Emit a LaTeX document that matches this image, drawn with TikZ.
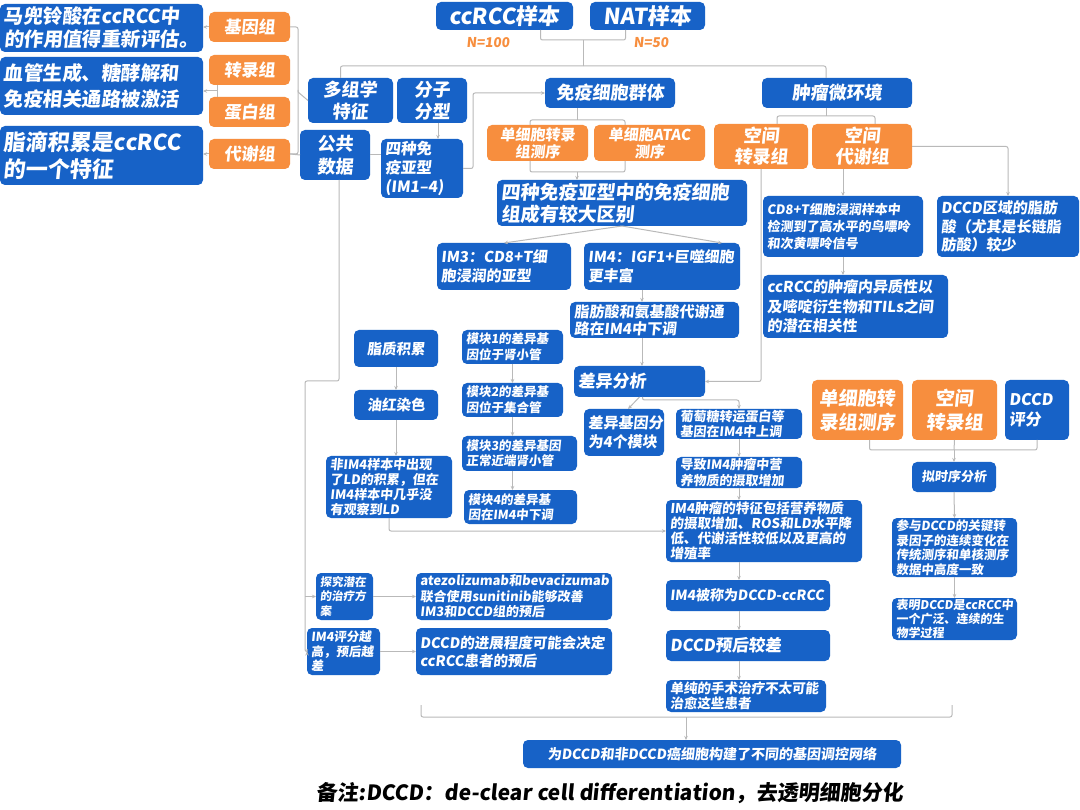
\documentclass[tikz,border=0pt]{standalone}
\usepackage{fontspec}
\setmainfont{Noto Sans CJK SC}[FakeSlant=0.1]
\usetikzlibrary{arrows.meta,calc}
\definecolor{cblue}{RGB}{23,98,199}
\definecolor{corange}{RGB}{247,142,62}
\definecolor{cline}{RGB}{185,185,185}
\hyphenpenalty=10000
\exhyphenpenalty=10000
\newcommand\fsz[2]{\fontsize{#1}{#2}\selectfont\bfseries}
\newcommand\fszr[2]{\fontsize{#1}{#2}\selectfont}
\newcommand\bx[7]{%
  \pgfmathsetmacro\bxw{#4-#2}%
  \pgfmathsetmacro\bxh{#5-#3}%
  \pgfmathsetmacro\bxt{#4-#2-8}%
  \pgfmathsetmacro\bxcx{(#2+#4)/2}%
  \pgfmathsetmacro\bxcy{(#3+#5)/2}%
  \node[#6, minimum width=\bxw pt, minimum height=\bxh pt, text width=\bxt pt] (#1) at (\bxcx,\bxcy) {#7};}
\tikzset{
  boxbase/.style={draw=none, text=white, rounded corners=5pt, inner xsep=4pt, inner ysep=0pt, outer sep=0pt},
  bl/.style={boxbase, fill=cblue, align=left},
  bc/.style={boxbase, fill=cblue, align=center},
  oc/.style={boxbase, fill=corange, align=center},
  ln/.style={draw=cline, line width=1pt, rounded corners=2pt},
  arr/.style={ln, -{Stealth[length=4pt,width=3.5pt]}}
}
\begin{document}
\begin{tikzpicture}[x=1pt,y=-1pt]
\fill[white] (0,0) rectangle (1080,810);
\useasboundingbox (0,0) rectangle (1080,810);

% left column
\bx{b1}{0}{4}{203}{52}{bl,font=\fsz{19.5}{23}}{马兜铃酸在ccRCC中\\的作用值得重新评估。}
\bx{b2}{0}{57}{203}{115}{bl,font=\fsz{19.5}{26}}{血管生成、糖酵解和\\免疫相关通路被激活}
\bx{b3}{0}{126}{203}{185}{bl,font=\fsz{22}{27}}{脂滴积累是ccRCC\\的一个特征}
\bx{gen}{209}{12}{290}{42}{oc,font=\fsz{17}{20}}{基因组}
\bx{tra}{209}{55}{290}{85}{oc,font=\fsz{17}{20}}{转录组}
\bx{pro}{209}{97}{290}{127}{oc,font=\fsz{17}{20}}{蛋白组}
\bx{met}{209}{139}{290}{169}{oc,font=\fsz{17}{20}}{代谢组}

% top
\bx{ccrcc}{436}{2}{573}{30}{bc,font=\fsz{22}{26}}{ccRCC样本}
\bx{nat}{590}{2}{705}{30}{bc,font=\fsz{22}{26}}{NAT样本}
\node[font=\fsz{13.5}{16}, text=corange] (n1) at (488,43) {N=100};
\node[font=\fsz{13.5}{16}, text=corange] (n2) at (651,43) {N=50};

\bx{multi}{308}{78}{393}{123}{bc,font=\fsz{18}{22}}{多组学\\特征}
\bx{mol}{397}{78}{467}{123}{bc,font=\fsz{18}{22}}{分子\\分型}
\bx{pub}{300}{130}{370}{180}{bc,font=\fsz{18}{23}}{公共\\数据}
\bx{im14}{381}{139}{463}{198}{bl,font=\fsz{15.5}{19}}{四种免\\疫亚型\\(IM1–4)}
\bx{imm}{545}{78}{675}{108}{bc,font=\fsz{18}{22}}{免疫细胞群体}
\bx{sc1}{487}{125}{588}{161}{oc,font=\fsz{15}{17}}{单细胞转录\\组测序}
\bx{sc2}{594}{125}{705}{161}{oc,font=\fsz{15}{17}}{单细胞ATAC\\测序}
\bx{diff4}{497}{180}{747}{226}{bl,font=\fsz{19}{22}}{四种免疫亚型中的免疫细胞\\组成有较大区别}
\bx{im3}{437}{243}{571}{290}{bl,font=\fsz{15}{19}}{IM3：CD8+T细\\胞浸润的亚型}
\bx{im4}{584}{243}{740}{290}{bl,font=\fsz{15}{19}}{IM4：IGF1+巨噬细胞\\更丰富}
\bx{fa}{570}{302}{739}{338}{bl,font=\fsz{15}{17}}{脂肪酸和氨基酸代谢通\\路在IM4中下调}
\bx{da}{574}{366}{705}{397}{bl,font=\fsz{17}{20}}{差异分析}

\bx{tme}{762}{78}{912}{108}{bc,font=\fsz{18}{22}}{肿瘤微环境}
\bx{st}{714}{124}{808}{169}{oc,font=\fsz{18}{21}}{空间\\转录组}
\bx{sm}{812}{124}{912}{169}{oc,font=\fsz{18}{21}}{空间\\代谢组}
\bx{cd8}{763}{196}{923}{257}{bl,font=\fsz{13}{17}}{CD8+T细胞浸润样本中\\检测到了高水平的鸟嘌呤\\和次黄嘌呤信号}
\bx{dccdfa}{937}{196}{1079}{257}{bl,font=\fsz{15}{18.5}}{DCCD区域的脂肪\\酸（尤其是长链脂\\肪酸）较少}
\bx{het}{763}{275}{948}{338}{bl,font=\fsz{15}{19.5}}{ccRCC的肿瘤内异质性以\\及嘧啶衍生物和TILs之间\\的潜在相关性}

\bx{mod4}{584}{409}{664}{456}{bl,font=\fsz{15}{19}}{差异基因分\\为4个模块}
\bx{glu}{676}{409}{802}{439}{bl,font=\fsz{13}{15.5}}{葡萄糖转运蛋白等\\基因在IM4中上调}
\bx{nut}{676}{457}{802}{488}{bl,font=\fsz{13}{15.5}}{导致IM4肿瘤中营\\养物质的摄取增加}
\bx{feat}{666}{500}{862}{562}{bl,font=\fsz{13.5}{15}}{IM4肿瘤的特征包括营养物质\\的摄取增加、ROS和LD水平降\\低、代谢活性较低以及更高的\\增殖率}
\bx{dcc}{666}{580}{830}{611}{bl,font=\fsz{14}{17}}{IM4被称为DCCD-ccRCC}
\bx{prog}{666}{630}{830}{661}{bl,font=\fsz{16.5}{19}}{DCCD预后较差}
\bx{surg}{666}{680}{826}{712}{bl,font=\fsz{13.5}{15.5}}{单纯的手术治疗不太可能\\治愈这些患者}

\bx{lip}{354}{330}{438}{367}{bc,font=\fsz{14.5}{17}}{脂质积累}
\bx{oil}{354}{390}{438}{420}{bc,font=\fsz{14.5}{17}}{油红染色}
\bx{ld}{326}{456}{452}{518}{bl,font=\fsz{13}{15}}{非IM4样本中出现\\了LD的积累，但在\\IM4样本中几乎没\\有观察到LD}
\bx{m1}{462}{330}{563}{364}{bl,font=\fsz{12.5}{15.5}}{模块1的差异基\\因位于肾小管}
\bx{m2}{462}{383}{563}{417}{bl,font=\fsz{12.5}{15.5}}{模块2的差异基\\因位于集合管}
\bx{m3}{462}{436}{577}{471}{bl,font=\fsz{12.5}{15.5}}{模块3的差异基因\\正常近端肾小管}
\bx{m4}{464}{490}{577}{524}{bl,font=\fsz{12.5}{15.5}}{模块4的差异基\\因在IM4中下调}

\bx{explore}{316}{573}{373}{620}{bl,font=\fsz{11.5}{14.5}}{探究潜在\\的治疗方\\案}
\bx{score}{307}{628}{380}{675}{bl,font=\fsz{12.5}{14.5}}{IM4评分越\\高，预后越\\差}
\bx{atezo}{416}{573}{612}{620}{bl,font=\fsz{13}{15.5}}{atezolizumab和bevacizumab\\联合使用sunitinib能够改善\\IM3和DCCD组的预后}
\bx{dprog}{416}{628}{612}{675}{bl,font=\fsz{14.5}{18}}{DCCD的进展程度可能会决定\\ccRCC患者的预后}

\bx{sc3}{812}{380}{903}{440}{oc,font=\fsz{19}{24}}{单细胞转\\录组测序}
\bx{st2}{912}{380}{997}{440}{oc,font=\fsz{19}{24}}{空间\\转录组}
\bx{dscore}{1005}{380}{1069}{440}{bl,font=\fsz{16}{20}}{DCCD\\评分}
\bx{pseudo}{912}{462}{996}{492}{bc,font=\fsz{13}{16}}{拟时序分析}
\bx{tf}{892}{518}{1017}{577}{bl,font=\fsz{12.5}{14.5}}{参与DCCD的关键转\\录因子的连续变化在\\传统测序和单核测序\\数据中高度一致}
\bx{bio}{892}{598}{1017}{640}{bl,font=\fsz{12}{14}}{表明DCCD是ccRCC中\\一个广泛、连续的生\\物学过程}

\bx{final}{523}{740}{901}{768}{bc,font=\fsz{14}{17}}{为DCCD和非DCCD癌细胞构建了不同的基因调控网络}
\node[font=\fsz{21}{25}, text=black] (note) at (610,793) {备注:DCCD：de-clear cell differentiation，去透明细胞分化};

% ---------- connectors ----------
% left omics
\draw[arr] (gen.west) -- (gen.west -| b1.east);
\coordinate (tp) at (217,91);
\draw[ln] ([xshift=8]tra.south west) -- ([xshift=8]pro.north west);
\draw[arr] (tp) -- (tp -| b2.east);
\draw[arr] (met.west) -- (met.west -| b3.east);
\coordinate (rv) at (298,92);
\draw[ln] (gen.east) -| (rv);
\draw[ln] (met.east) -- ++(8,0) |- (rv);
\draw[ln] (met.east) -- (pub.west);
\draw[ln] (rv) -- (multi.west);

% top samples
\coordinate (j0) at (583,40);
\coordinate (j1) at (583,66);
\draw[ln] ([xshift=36]ccrcc.south) |- (j0) -| ([xshift=-22]nat.south);
\draw[ln] (j0) -- (j1);
\draw[ln] (j1) -| ([xshift=-10]multi.north);
\draw[ln] (j1) -| ([xshift=-11]tme.north);

% molecular subtypes
\draw[arr] ([xshift=6]mol.south) -- ([xshift=6]mol.south |- im14.north);
\draw[ln] (pub.east) -- (pub.east -| im14.west);
\draw[arr] (im14.east) -- ++(10,0) |- (imm.west);
\coordinate (j2) at (577,120);
\draw[ln] ([xshift=-33]imm.south) -- (j2);
\draw[ln] ([xshift=-7.5]sc1.north) |- (j2) -| ([xshift=-24.5]sc2.north);
\coordinate (j3) at (577,172);
\draw[ln] ([xshift=-7.5]sc1.south) |- (j3) -| ([xshift=-24.5]sc2.south);
\draw[arr] (j3) -- (j3 |- diff4.north);
\draw[arr] (diff4.south) -- (im3.north);
\draw[arr] (diff4.south) -- ([xshift=60]im4.north);
\draw[arr] ([xshift=-20]im4.south) -- ([xshift=-20]im4.south |- fa.north);
\draw[arr] ([xshift=-12.5]fa.south) -- ([xshift=-12.5]fa.south |- da.north);

% tumor microenvironment
\coordinate (j4) at (826,116);
\draw[ln] ([xshift=-11]tme.south) -- (j4);
\draw[ln] ([xshift=16]st.north) |- (j4) -| ([xshift=13]sm.north);
\draw[arr] ([xshift=-19]sm.south) -- ([xshift=-19]sm.south |- cd8.north);
\draw[arr] (sm.east) -| (dccdfa.north);
\draw[arr] (cd8.south) -- (cd8.south |- het.north);
\draw[arr] (st.south) |- (da.east);

% differential analysis
\draw[arr] (da.south) -- ([xshift=4]mod4.north);
\draw[arr] ([xshift=3]da.south) -- ++(0,3) -| (glu.north);
\draw[arr] (glu.south) -- (nut.north);
\draw[arr] (nut.south) -- (nut.south |- feat.north);
\draw[arr] (feat.south -| glu) -- (dcc.north -| glu);
\draw[arr] (dcc.south -| glu) -- (prog.north -| glu);
\draw[arr] (prog.south -| glu) -- (surg.north -| glu);

% lipid column
\draw[arr] (lip.south) -- (oil.north);
\draw[arr] (oil.south) -- (oil.south |- ld.north);
\draw[arr] (ld.south) |- (feat.west);

% modules
\draw[arr] (m1.south) -- (m2.north);
\draw[arr] (m2.south) -- (m2.south |- m3.north);
\draw[arr] (m2.south |- m3.south) -- (m2.south |- m4.north);

% public data branch
\coordinate (p2) at (305,381);
\draw[arr] ([xshift=4]pub.south) |- (p2) |- (score.west);
\draw[arr] (p2 |- explore.west) -- (explore.west);
\draw[arr] (explore.east) -- (atezo.west);
\draw[arr] (score.east) -- (dprog.west);

% right pseudotime
\coordinate (j5) at (954,450);
\draw[ln] ([xshift=12]sc3.south) |- (j5) -| (dscore.south);
\draw[ln] (st2.south) -- (j5);
\draw[arr] (j5) -- (pseudo.north);
\draw[arr] (pseudo.south) -- (tf.north);
\draw[arr] (tf.south) -- (bio.north);

% bottom bracket
\coordinate (bl) at (421,705);
\coordinate (br) at (952,705);
\coordinate (bm) at (686,717);
\draw[ln] (bl) |- (bm) -| (br);
\draw[arr] (bm) -- (bm |- final.north);
\end{tikzpicture}
\end{document}
